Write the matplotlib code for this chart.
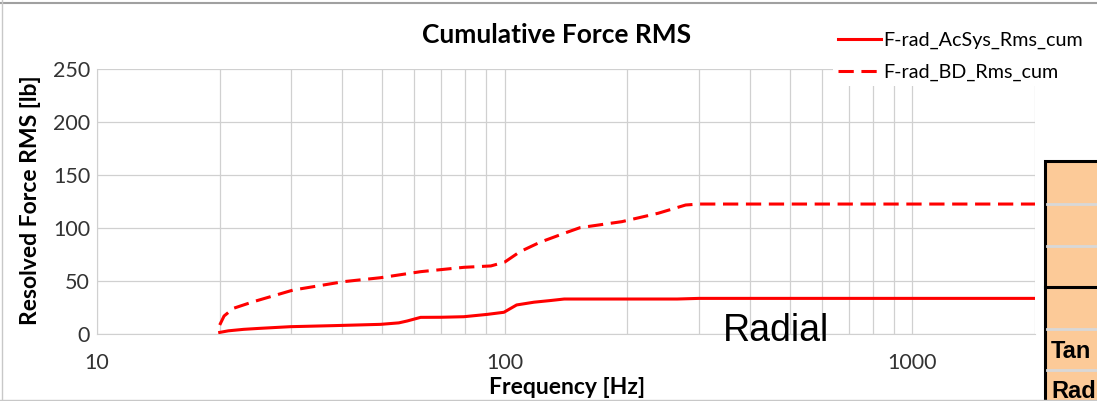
import matplotlib.pyplot as plt
from matplotlib.patches import Rectangle
from matplotlib.lines import Line2D
from matplotlib.ticker import FixedLocator, NullFormatter, LogLocator

# cumulative RMS force
freq_acsys = [20, 21, 22.9, 25, 29.8, 38.1, 49.6, 55, 57.7, 62.2, 70, 79.4, 90.6, 99.6,
              107, 118, 129, 140, 200, 265, 300, 2000]
rms_acsys = [1.5, 3, 4.4, 5.3, 6.9, 7.9, 9.1, 10.5, 12.3, 15.7, 15.8, 16.3, 18.5, 20.5,
             27.4, 30, 31.5, 33, 33, 33, 33.6, 33.6]

freq_bd = [20, 20.5, 21.6, 24.2, 30.3, 40.3, 49.6, 62.2, 79.4, 92.5, 100, 109, 122,
           140, 153, 194, 238, 278, 300, 2000]
rms_bd = [8.5, 17, 24.2, 30.5, 41.5, 49.4, 53.1, 58.8, 62.9, 64.2, 67.8, 77.6, 86.5,
          95, 100.3, 106, 113.9, 121.7, 122.6, 122.6]

y_ticks = [0, 50, 100, 150, 200, 250]
x_ticks = [10, 100, 1000]

plt.rcParams['font.family'] = ['Lato', 'DejaVu Sans']

W, H = 1097, 401
fig = plt.figure(figsize=(W / 100, H / 100), dpi=100)
ax = fig.add_axes([97 / W, 1 - 334 / H, (1035 - 97) / W, (334 - 69) / H])

ax.plot(freq_acsys, rms_acsys, color='#ff0000', lw=2.2, zorder=3)
ax.plot(freq_bd, rms_bd, color='#ff0000', lw=2.2, dashes=(5, 2.5), zorder=3)

ax.set_xscale('log')
ax.set_xlim(10, 2000)
ax.set_ylim(0, 250)
ax.xaxis.set_major_locator(FixedLocator(x_ticks))
ax.xaxis.set_minor_locator(LogLocator(base=10, subs=range(2, 10)))
ax.xaxis.set_minor_formatter(NullFormatter())
ax.set_xticks(x_ticks, [str(t) for t in x_ticks])
ax.set_yticks(y_ticks)

ax.grid(True, which='both', axis='x', color='#d0d0d0', lw=0.9)
ax.grid(True, which='major', axis='y', color='#d0d0d0', lw=0.9)
for s in ax.spines.values():
    s.set_visible(False)
ax.spines['bottom'].set_visible(True)
ax.spines['bottom'].set_color('#d0d0d0')
ax.spines['left'].set_visible(True)
ax.spines['left'].set_color('#d0d0d0')
ax.tick_params(which='both', length=0, labelsize=15.5, colors='#333333')
ax.tick_params(axis='x', pad=14)
ax.tick_params(axis='y', pad=5)

fig.text(557 / W, 1 - 35 / H, 'Cumulative Force RMS', fontsize=19, fontweight='bold',
         ha='center', va='center')
fig.text(567 / W, 1 - 387 / H, 'Frequency [Hz]', fontsize=16.5, fontweight='bold',
         ha='center', va='center')
fig.text(31 / W, 1 - 200 / H, 'Resolved Force RMS [lb]', fontsize=16.5, fontweight='bold',
         ha='center', va='center', rotation=90)

handles = [Line2D([], [], color='#ff0000', lw=2.2),
           Line2D([], [], color='#ff0000', lw=2.2, dashes=(5, 2.5))]
leg = fig.legend(handles, ['F-rad_AcSys_Rms_cum', 'F-rad_BD_Rms_cum'],
                 loc='upper left', bbox_to_anchor=(823 / W, 1 - 17 / H),
                 fontsize=14.2, frameon=True, fancybox=False, edgecolor='none',
                 framealpha=1, handlelength=2.2, handletextpad=0.1, labelspacing=0.75,
                 borderpad=0.25)

# chart frame
fig.add_artist(Line2D([0, 1], [1 - 2.5 / H] * 2, color='#a0a0a0', lw=1.5, transform=fig.transFigure))
fig.add_artist(Line2D([0, 1], [1 - 400 / H] * 2, color='#c8c8c8', lw=1, transform=fig.transFigure))
fig.add_artist(Line2D([1.5 / W] * 2, [0, 1], color='#c8c8c8', lw=1, transform=fig.transFigure))

fig.text(776 / W, 1 - 331 / H, 'Radial', fontsize=27, family='Liberation Sans',
         ha='center', va='center')

# orange table on the right
peach = '#fcca98'
fig.add_artist(Rectangle((1045 / W, -0.05), 0.1, 1 - 161 / H + 0.05, transform=fig.transFigure,
                         facecolor=peach, edgecolor='black', lw=2.2))
for yy in [204, 246, 329, 370]:
    fig.add_artist(Line2D([1047 / W, 1], [1 - yy / H] * 2, color='#d8d8d8', lw=2,
                          transform=fig.transFigure))
fig.add_artist(Line2D([1045 / W, 1], [1 - 287 / H] * 2, color='black', lw=2.2,
                      transform=fig.transFigure))
fig.text(1051 / W, 1 - 351 / H, 'Tan', fontsize=17, fontweight='bold', va='center',
         family='Liberation Sans')
fig.text(1051 / W, 1 - 391 / H, 'Rad', fontsize=17, fontweight='bold', va='center',
         family='Liberation Sans')

fig.savefig('out.png', dpi=100)
